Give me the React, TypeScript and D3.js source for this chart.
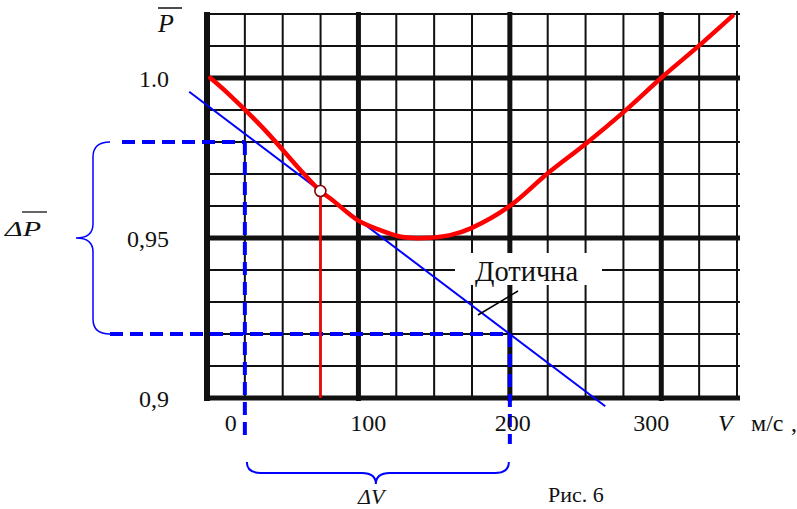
import React from "react";
import * as d3 from "d3";

// Relative power P̄ against flight speed V (m/s)
const speedV = [-26, -13, 15, 44, 57, 66, 85, 102, 119, 136, 155, 171, 199, 228, 258, 286, 315, 345, 368];
const powerP = [1.0, 0.9953, 0.9838, 0.9703, 0.9647, 0.9619, 0.9556, 0.9525, 0.9503, 0.95, 0.9509, 0.9531, 0.9597, 0.97, 0.9797, 0.9894, 1.0003, 1.0109, 1.0194];

// Tangent at the marked point
const tangentPoint = { v: 57, p: 0.9647 };
const tangentSlope = -0.000313;
const tangentSpan = [-42, 272];

// Increments
const deltaV = [0, 200];
const deltaP = [0.98, 0.92];

const xTickValues = [0, 100, 200, 300];
const xTickLabels = ["0", "100", "200", "300"];
const yTickValues = [1.0, 0.95, 0.9];
const yTickLabels = ["1.0", "0,95", "0,9"];

const W = 797;
const H = 509;
const FONT = "Liberation Serif";
const BLUE = "#0000ff";
const INK = "#111";

const colX = d3.scaleLinear().domain([0, 14]).range([207, 737]);
const rowY = d3.scaleLinear().domain([0, 12]).range([14, 398]);
const x = d3.scaleLinear().domain([0, 200]).range([colX(1), colX(8)]);
const y = d3.scaleLinear().domain([0.9, 1.02]).range([398, 14]);

const thickCols = [0, 4, 8, 12];
const thickRows = [2, 7, 12];
const xLabelShift = [-14, -9, 3, 9];

const T = (props: any) => <text fill={INK} fontFamily={FONT} {...props} />;

export default function App() {
  const curve = d3
    .line<number>()
    .x((_, i) => x(speedV[i]))
    .y((_, i) => y(powerP[i]))
    .curve(d3.curveCatmullRom.alpha(0.5))(speedV);

  const tp = (v: number) => tangentPoint.p + tangentSlope * (v - tangentPoint.v);

  const thinCols = d3.range(1, 15).filter((c) => !thickCols.includes(c));
  const thinRows = d3.range(0, 12).filter((r) => !thickRows.includes(r));

  // vertical brace spanning ΔP
  const bx = 93;
  const bTop = y(deltaP[0]);
  const bBot = y(deltaP[1]);
  const bMid = (bTop + bBot) / 2;
  const leftBrace = `M110,${bTop} Q${bx},${bTop} ${bx},${bTop + 15} L${bx},${bMid - 14} Q${bx},${bMid} 76,${bMid} Q${bx},${bMid} ${bx},${bMid + 14} L${bx},${bBot - 15} Q${bx},${bBot} 110,${bBot}`;

  // horizontal brace spanning ΔV
  const hx0 = x(deltaV[0]) + 2;
  const hx1 = x(deltaV[1]) - 1;
  const hTip = (hx0 + hx1) / 2 - 2;
  const hy = 473;
  const bottomBrace = `M${hx0},462 Q${hx0},${hy} ${hx0 + 14},${hy} L${hTip - 14},${hy} Q${hTip},${hy} ${hTip},${hy + 11} Q${hTip},${hy} ${hTip + 14},${hy} L${hx1 - 14},${hy} Q${hx1},${hy} ${hx1},462`;

  return (
    <svg width={W} height={H} style={{ position: "fixed", left: 0, top: 0, background: "#fff" }}>
      <rect width={W} height={H} fill="#fff" />

      {/* grid */}
      <g stroke={INK}>
        {thinCols.map((c) => (
          <line key={"vc" + c} x1={colX(c)} x2={colX(c)} y1={c === 14 ? 11 : 14} y2={398} strokeWidth={2} />
        ))}
        {thinRows.map((r) => (
          <line key={"hr" + r} x1={204} x2={740} y1={rowY(r)} y2={rowY(r)} strokeWidth={2} />
        ))}
        {thickCols.map((c) => (
          <line key={"tc" + c} x1={colX(c)} x2={colX(c)} y1={12} y2={401} strokeWidth={c === 0 ? 6 : 5} />
        ))}
        {thickRows.map((r) => (
          <line key={"tr" + r} x1={204} x2={740} y1={rowY(r)} y2={rowY(r)} strokeWidth={5} />
        ))}
      </g>

      {/* label backing */}
      <rect x={455} y={253} width={147} height={32} fill="#fff" />

      {/* increment guides */}
      <g stroke={BLUE} strokeWidth={4} strokeDasharray="13,7" fill="none">
        <line x1={122} x2={x(deltaV[0])} y1={y(deltaP[0])} y2={y(deltaP[0])} />
        <line x1={110} x2={x(deltaV[1])} y1={y(deltaP[1])} y2={y(deltaP[1])} />
        <line x1={x(deltaV[0])} x2={x(deltaV[0])} y1={y(deltaP[0])} y2={437} />
        <line x1={x(deltaV[1])} x2={x(deltaV[1])} y1={y(deltaP[1])} y2={444} />
      </g>

      {/* braces */}
      <path d={leftBrace} fill="none" stroke={BLUE} strokeWidth={1.5} />
      <path d={bottomBrace} fill="none" stroke={BLUE} strokeWidth={2} />

      {/* tangent */}
      <line
        x1={x(tangentSpan[0])}
        y1={y(tp(tangentSpan[0]))}
        x2={x(tangentSpan[1])}
        y2={y(tp(tangentSpan[1]))}
        stroke={BLUE}
        strokeWidth={2}
      />

      {/* drop line from the tangent point */}
      <line x1={x(tangentPoint.v)} x2={x(tangentPoint.v)} y1={y(tangentPoint.p)} y2={398} stroke="#ff0000" strokeWidth={2.5} />

      {/* power curve */}
      <path d={curve ?? ""} fill="none" stroke="#ff0000" strokeWidth={4.5} strokeLinecap="round" />

      <circle cx={x(tangentPoint.v)} cy={y(tangentPoint.p)} r={5.5} fill="#fff" stroke="#8b0000" strokeWidth={1.6} />

      {/* leader for the tangent label */}
      <line x1={518} y1={291} x2={478} y2={315} stroke="#000" strokeWidth={1.5} />
      <T x={475} y={281} fontSize={28.5}>Дотична</T>

      {/* y labels */}
      {yTickValues.map((v, i) => (
        <T key={"yl" + i} x={169} y={y(v) + 9} fontSize={24} textAnchor="end">
          {yTickLabels[i]}
        </T>
      ))}

      {/* x labels */}
      {xTickValues.map((v, i) => (
        <T key={"xl" + i} x={x(v) + xLabelShift[i]} y={431} fontSize={24} textAnchor="middle">
          {xTickLabels[i]}
        </T>
      ))}
      <T x={718} y={431} fontSize={24} fontStyle="italic">V</T>
      <T x={751} y={431} fontSize={24}>м/с</T>
      <T x={791} y={431} fontSize={24}>,</T>

      {/* axis name P̄ */}
      <T x={158} y={32} fontSize={26} fontStyle="italic">P</T>
      <line x1={158} x2={182} y1={8} y2={8} stroke={INK} strokeWidth={1.5} />

      {/* ΔP̄ */}
      <T x={5} y={236} fontSize={21} fontStyle="italic" textLength={36} lengthAdjust="spacingAndGlyphs">ΔP</T>
      <line x1={22} x2={47} y1={212} y2={212} stroke={INK} strokeWidth={1.3} />

      {/* ΔV */}
      <T x={358} y={504} fontSize={22} fontStyle="italic">ΔV</T>

      <T x={548} y={502} fontSize={22}>Рис. 6</T>
    </svg>
  );
}
